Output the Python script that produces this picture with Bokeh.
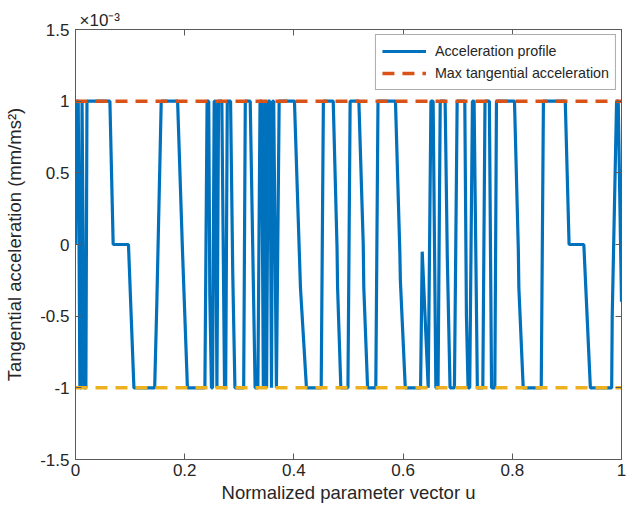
from bokeh.plotting import figure
from bokeh.models import (Range1d, FixedTicker, LinearAxis, Legend, LegendItem,
                          CustomJSTickFormatter, Title)
from bokeh.embed import file_html
from bokeh.resources import INLINE

# Normalized parameter u and tangential acceleration (values in units of 1e-3 mm/ms^2)
u = [0.000, 0.002, 0.005, 0.008, 0.010, 0.012, 0.016, 0.019, 0.021, 0.063,
     0.069, 0.097, 0.107, 0.145, 0.149, 0.157, 0.187, 0.196, 0.205, 0.237,
     0.241, 0.244, 0.246, 0.249, 0.251, 0.254, 0.256, 0.259, 0.262, 0.268,
     0.273, 0.275, 0.278, 0.284, 0.288, 0.292, 0.308, 0.311, 0.320, 0.329,
     0.334, 0.338, 0.341, 0.344, 0.347, 0.350, 0.353, 0.356, 0.359, 0.361,
     0.363, 0.368, 0.373, 0.401, 0.412, 0.423, 0.450, 0.454, 0.472, 0.479,
     0.480, 0.486, 0.499, 0.503, 0.519, 0.527, 0.528, 0.535, 0.550, 0.554,
     0.586, 0.594, 0.595, 0.604, 0.632, 0.635, 0.646, 0.651, 0.655, 0.660,
     0.664, 0.668, 0.677, 0.681, 0.686, 0.694, 0.699, 0.713, 0.716, 0.719,
     0.722, 0.727, 0.730, 0.736, 0.746, 0.750, 0.758, 0.762, 0.768, 0.771,
     0.804, 0.811, 0.812, 0.820, 0.853, 0.857, 0.897, 0.904, 0.931, 0.943,
     0.982, 0.983, 0.991, 0.994, 1.000]
accel = [0.0, 1.0, 1.0, -1.0, -1.0, 1.0, -1.0, -1.0, 1.0, 1.0,
         0.0, 0.0, -1.0, -1.0, -0.4, 1.0, 1.0, -0.05, -1.0, -1.0,
         1.0, 1.0, -0.35, -1.0, -1.0, 1.0, 1.0, -1.0, 1.0, 1.0,
         -1.0, -1.0, 1.0, 1.0, -0.2, -1.0, -1.0, 1.0, 1.0, -1.0,
         -1.0, 1.0, 1.0, -1.0, 1.0, -1.0, 1.0, 1.0, -1.0, 1.0,
         1.0, -1.0, 1.0, 1.0, -0.3, -1.0, -1.0, 1.0, 1.0, -0.02,
         -0.3, -1.0, -1.0, 1.0, 1.0, 0.0, -0.3, -1.0, -1.0, 1.0,
         1.0, -0.05, -0.25, -1.0, -1.0, -0.05, -1.0, 1.0, 1.0, -1.0,
         -1.0, 1.0, 1.0, -0.1, -1.0, -1.0, 1.0, 1.0, -0.5, -1.0,
         -1.0, 1.0, 1.0, -1.0, -1.0, 1.0, 1.0, -1.0, -1.0, 1.0,
         1.0, -0.03, -0.3, -1.0, -1.0, 1.0, 1.0, 0.0, 0.0, -1.0,
         -1.0, -0.5, 1.0, 1.0, -0.4]

u_bounds = [0.0, 1.0]
max_acc = 1.0
min_acc = -1.0

x_ticks = [0, 0.2, 0.4, 0.6, 0.8, 1]
y_ticks = [-1.5, -1, -0.5, 0, 0.5, 1, 1.5]

FONT = "Liberation Sans"
TXT = "#262626"
AX = "#5a5a5a"

p = figure(width=627, height=505, output_backend="svg", toolbar_location=None,
           x_range=Range1d(0, 1), y_range=Range1d(-1.5, 1.5),
           min_border_left=75, min_border_right=6, min_border_top=29, min_border_bottom=45,
           background_fill_color="white", border_fill_color="white")
p.grid.visible = False
p.outline_line_color = AX
p.outline_line_width = 1

fmt = CustomJSTickFormatter(code="return String(Math.round(tick*10)/10);")
blank = CustomJSTickFormatter(code="return '';")

for ax in p.xaxis:
    ax.ticker = FixedTicker(ticks=x_ticks)
    ax.formatter = fmt
    ax.axis_label = "Normalized parameter vector u"
for ax in p.yaxis:
    ax.ticker = FixedTicker(ticks=y_ticks)
    ax.formatter = fmt
    ax.axis_label = "Tangential acceleration (mm/ms²)"

for ax in list(p.xaxis) + list(p.yaxis):
    ax.major_tick_in = 6
    ax.major_tick_out = 0
    ax.minor_tick_line_color = None
    ax.axis_line_color = AX
    ax.major_tick_line_color = AX
    ax.major_label_text_font = FONT
    ax.major_label_text_font_size = "17px"
    ax.major_label_text_color = TXT
    ax.axis_label_text_font = FONT
    ax.axis_label_text_font_size = "18.5px"
    ax.axis_label_text_font_style = "normal"
    ax.axis_label_text_color = TXT
p.xaxis.major_label_standoff = 4
p.xaxis.axis_label_standoff = 3
p.yaxis.major_label_standoff = 6
p.yaxis.axis_label_standoff = 12

top = LinearAxis(ticker=FixedTicker(ticks=x_ticks), formatter=blank,
                 major_label_standoff=0, major_tick_in=6, major_tick_out=0,
                 minor_tick_line_color=None, axis_line_color=AX, major_tick_line_color=AX)
right = LinearAxis(ticker=FixedTicker(ticks=y_ticks), formatter=blank,
                   major_label_standoff=0, major_tick_in=6, major_tick_out=0,
                   minor_tick_line_color=None, axis_line_color=AX, major_tick_line_color=AX)
p.add_layout(top, "above")
p.add_layout(right, "right")

p.add_layout(Title(text="×10⁻³", align="left", offset=4, standoff=0,
                   text_font=FONT, text_font_size="17px", text_font_style="normal",
                   text_color=TXT), "above")

r_acc = p.line(u, accel, line_color="#0072BD", line_width=3.2)
r_max = p.line(u_bounds, [max_acc, max_acc], line_color="#D95319", line_width=3.5,
               line_dash="12 8")
r_min = p.line(u_bounds, [min_acc, min_acc], line_color="#EDB120", line_width=3.5,
               line_dash="12 8")

legend = Legend(items=[LegendItem(label="Acceleration profile", renderers=[r_acc]),
                       LegendItem(label="Max tangential acceleration", renderers=[r_max])],
                location="top_right", margin=5, padding=6, spacing=2,
                glyph_width=44, glyph_height=20, label_height=20, label_standoff=9,
                label_text_font=FONT, label_text_font_size="14.3px", label_text_color=TXT,
                border_line_color=AX, border_line_width=1,
                background_fill_color="white", background_fill_alpha=1)
p.add_layout(legend)

open("out.html", "w").write(file_html(p, INLINE))
